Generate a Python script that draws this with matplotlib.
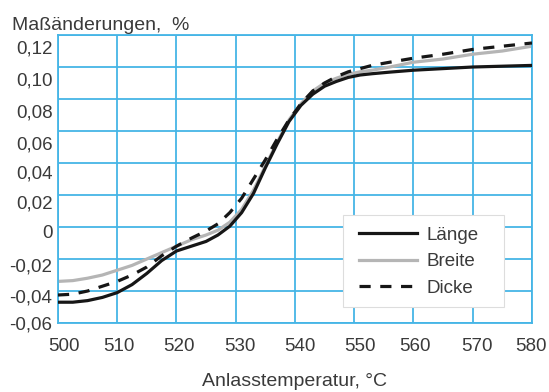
import numpy as np
import matplotlib
matplotlib.use('Agg')
import matplotlib.pyplot as plt
from matplotlib.patches import Rectangle
from matplotlib.transforms import ScaledTranslation

plt.rcParams['font.family'] = ['Liberation Sans', 'DejaVu Sans']

# Anlasstemperatur in °C
temp = [500, 502.5, 505, 507.5, 510, 512.5, 515, 517.5, 520, 522.5, 525,
        527, 529, 531, 533, 535, 537, 539, 541, 543, 545, 547, 549, 551, 553,
        556, 560, 565, 570, 575, 580]

# Maßänderungen in %
laenge = [-0.047, -0.047, -0.046, -0.044, -0.041, -0.036, -0.029, -0.021, -0.015, -0.012, -0.009,
          -0.005, 0.0005, 0.009, 0.021, 0.037, 0.052, 0.066, 0.076, 0.083, 0.088, 0.091, 0.0935,
          0.095, 0.0958, 0.0968, 0.098, 0.099, 0.100, 0.1005, 0.101]
breite = [-0.034, -0.0335, -0.032, -0.030, -0.027, -0.024, -0.020, -0.016, -0.012, -0.008, -0.005,
          -0.002, 0.003, 0.011, 0.023, 0.038, 0.053, 0.067, 0.077, 0.085, 0.090, 0.093, 0.0955,
          0.097, 0.098, 0.100, 0.103, 0.105, 0.108, 0.110, 0.113]
dicke = [-0.0425, -0.042, -0.040, -0.037, -0.034, -0.030, -0.025, -0.018, -0.012, -0.007, -0.0025,
         0.002, 0.009, 0.018, 0.030, 0.042, 0.055, 0.067, 0.077, 0.085, 0.090, 0.094, 0.097,
         0.099, 0.101, 0.103, 0.1055, 0.108, 0.111, 0.113, 0.115]

xticks = [500, 510, 520, 530, 540, 550, 560, 570, 580]
yticks = [-0.06, -0.04, -0.02, 0, 0.02, 0.04, 0.06, 0.08, 0.10, 0.12]
ytick_labels = ['-0,06', '-0,04', '-0,02', '0', '0,02', '0,04', '0,06', '0,08', '0,10', '0,12']
# the printed labels sit a little off their grid lines (pixels)
ylab_shift = [0, 5, 6, 4, 6.5, 9, 12, 12, 12, 12]
xlab_shift = [6, 1.5, 2, 4, 5, 6, 1, 4, -1]

grid_col = '#45b5e6'
txt_col = '#3a3a3a'
fs = 13.5

fig = plt.figure(figsize=(5.49, 3.92), dpi=100)
ax = fig.add_axes([0.1056, 0.176, 0.8634, 0.7347])

ax.plot(temp, laenge, color='#161616', lw=2.3, label='Länge', zorder=3)
ax.plot(temp, breite, color='#b5b5b5', lw=2.3, label='Breite', zorder=2)
ax.plot(temp, dicke, color='#161616', lw=2.3, ls=(0, (3.5, 3)), label='Dicke', zorder=4)

ax.set_xlim(500, 580)
ax.set_ylim(-0.06, 0.12)
ax.set_xticks(xticks)
ax.set_yticks(yticks)
ax.set_yticklabels(ytick_labels)
ax.tick_params(length=0, labelsize=fs, labelcolor=txt_col)
ax.tick_params(axis='x', pad=11)
ax.tick_params(axis='y', pad=4)
ax.grid(True, color=grid_col, lw=1.3)
ax.set_axisbelow(True)
for s in ax.spines.values():
    s.set_color(grid_col)
    s.set_linewidth(1.3)

for lab, d in zip(ax.get_yticklabels(), ylab_shift):
    lab.set_transform(lab.get_transform() + ScaledTranslation(0, -d / 100, fig.dpi_scale_trans))
for lab, d in zip(ax.get_xticklabels(), xlab_shift):
    lab.set_transform(lab.get_transform() + ScaledTranslation(d / 100, 0, fig.dpi_scale_trans))

# legend box
ax.add_patch(Rectangle((0.601, 0.056), 0.34, 0.319, transform=ax.transAxes,
                       facecolor='white', edgecolor='#dddddd', lw=0.8, zorder=5))
leg = ax.legend(loc='upper left', bbox_to_anchor=(0.6235, 0.354), borderaxespad=0,
                fontsize=fs, handlelength=3.1, handletextpad=0.5, labelspacing=0.5,
                borderpad=0.3, frameon=False)
leg.set_zorder(6)
for t in leg.get_texts():
    t.set_color(txt_col)

fig.text(12 / 549, 1 - 30 / 392, 'Maßänderungen,  %', fontsize=14, color=txt_col,
         ha='left', va='baseline')
fig.text(294 / 549, 1 - 386 / 392, 'Anlasstemperatur, °C', fontsize=14, color=txt_col,
         ha='center', va='baseline')

fig.savefig('out.png', dpi=100)
